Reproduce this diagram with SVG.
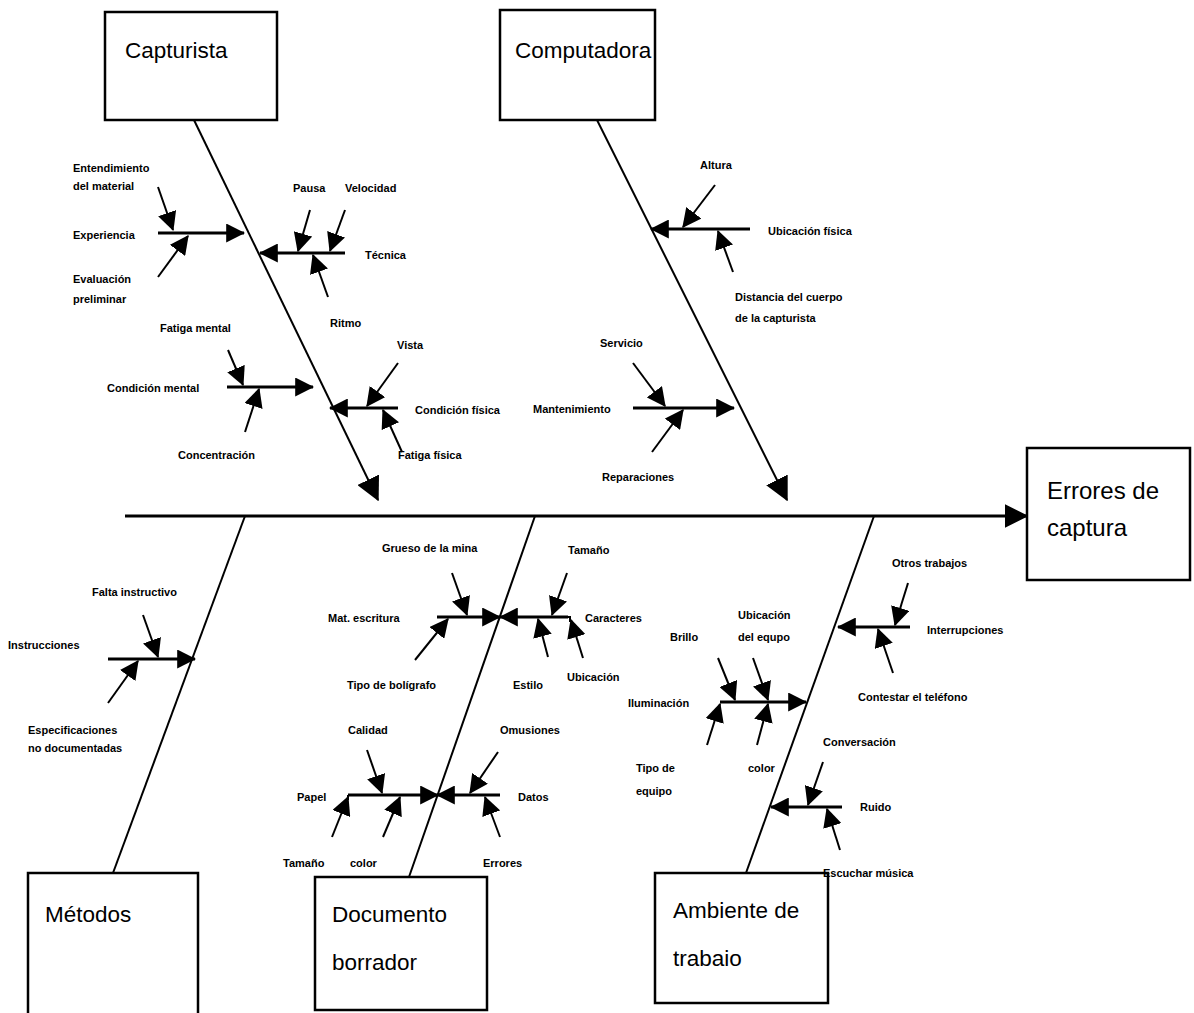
<svg xmlns="http://www.w3.org/2000/svg" width="1194" height="1013" viewBox="0 0 1194 1013">
<style>
.box{fill:#fff;stroke:#000;stroke-width:2.5}
.big{font-family:"Liberation Sans",Arial,sans-serif;font-size:22.5px;fill:#000}
.sm{font-family:"Liberation Sans",Arial,sans-serif;font-size:11px;font-weight:bold;fill:#000}
.bone{stroke:#000;stroke-width:2;fill:none}
.spine{stroke:#000;stroke-width:3;fill:none}
.sub{stroke:#000;stroke-width:3;fill:none}
.tw{stroke:#000;stroke-width:2;fill:none}
.a{marker-end:url(#ah)}
.b{marker-end:url(#ab)}
</style>
<defs>
<marker id="ah" viewBox="0 0 16 16" refX="15" refY="8" markerWidth="19" markerHeight="19" markerUnits="userSpaceOnUse" orient="auto"><path d="M0,0 L16,8 L0,16 z" fill="#000"/></marker>
<marker id="ab" viewBox="0 0 16 16" refX="15" refY="8" markerWidth="24" markerHeight="24" markerUnits="userSpaceOnUse" orient="auto"><path d="M0,0 L16,8 L0,16 z" fill="#000"/></marker>
</defs>
<rect width="1194" height="1013" fill="#fff"/>

<g id="connectors">
<line class="spine b" x1="125" y1="516" x2="1027" y2="516"/>
<line class="bone b" x1="194" y1="120" x2="378" y2="500"/>
<line class="bone b" x1="597" y1="120" x2="787" y2="500"/>
<line class="bone" x1="245" y1="516" x2="113" y2="873"/>
<line class="bone" x1="535" y1="516" x2="409" y2="877"/>
<line class="bone" x1="874" y1="516" x2="746" y2="873"/>

<!-- Capturista -->
<line class="sub a" x1="158" y1="233" x2="244" y2="233"/>
<line class="tw a" x1="158" y1="187" x2="173" y2="230"/>
<line class="tw a" x1="158" y1="277" x2="188" y2="236"/>
<line class="sub a" x1="345" y1="253" x2="260" y2="253"/>
<line class="tw a" x1="310" y1="210" x2="298" y2="251"/>
<line class="tw a" x1="345" y1="210" x2="330" y2="251"/>
<line class="tw a" x1="328" y1="297" x2="313" y2="255"/>
<line class="sub a" x1="227" y1="387" x2="313" y2="387"/>
<line class="tw a" x1="228" y1="350" x2="243" y2="385"/>
<line class="tw a" x1="245" y1="432" x2="259" y2="389"/>
<line class="sub a" x1="398" y1="408" x2="330" y2="408"/>
<line class="tw a" x1="398" y1="363" x2="367" y2="406"/>
<line class="tw a" x1="402" y1="452" x2="383" y2="410"/>

<!-- Computadora -->
<line class="sub a" x1="750" y1="229" x2="651" y2="229"/>
<line class="tw a" x1="715" y1="185" x2="683" y2="227"/>
<line class="tw a" x1="733" y1="272" x2="718" y2="231"/>
<line class="sub a" x1="633" y1="408" x2="734" y2="408"/>
<line class="tw a" x1="633" y1="363" x2="665" y2="406"/>
<line class="tw a" x1="652" y1="452" x2="683" y2="410"/>

<!-- Metodos -->
<line class="sub a" x1="108" y1="659" x2="195" y2="659"/>
<line class="tw a" x1="143" y1="615" x2="158" y2="657"/>
<line class="tw a" x1="108" y1="703" x2="138" y2="661"/>

<!-- Documento borrador -->
<line class="sub a" x1="437" y1="617" x2="500" y2="617"/>
<line class="tw a" x1="452" y1="573" x2="467" y2="615"/>
<line class="tw a" x1="415" y1="660" x2="448" y2="619"/>
<line class="sub a" x1="568" y1="617" x2="500" y2="617"/>
<polyline class="tw" points="568,617 570,617 570,622"/>
<line class="tw a" x1="567" y1="573" x2="552" y2="615"/>
<line class="tw a" x1="548" y1="657" x2="538" y2="619"/>
<line class="tw a" x1="583" y1="658" x2="571" y2="620"/>
<line class="sub a" x1="348" y1="795" x2="438" y2="795"/>
<line class="tw" x1="348" y1="795" x2="348" y2="800"/>
<line class="tw a" x1="367" y1="750" x2="382" y2="793"/>
<line class="tw a" x1="332" y1="837" x2="348" y2="797"/>
<line class="tw a" x1="383" y1="837" x2="400" y2="797"/>
<line class="sub a" x1="500" y1="795" x2="437" y2="795"/>
<line class="tw a" x1="498" y1="752" x2="470" y2="793"/>
<line class="tw a" x1="500" y1="837" x2="485" y2="797"/>

<!-- Ambiente de trabajo -->
<line class="sub a" x1="910" y1="627" x2="838" y2="627"/>
<line class="tw a" x1="908" y1="583" x2="895" y2="625"/>
<line class="tw a" x1="893" y1="673" x2="878" y2="629"/>
<line class="sub a" x1="720" y1="702" x2="806" y2="702"/>
<line class="tw a" x1="718" y1="658" x2="735" y2="700"/>
<line class="tw a" x1="753" y1="658" x2="768" y2="700"/>
<line class="tw a" x1="707" y1="745" x2="720" y2="704"/>
<line class="tw a" x1="757" y1="745" x2="768" y2="704"/>
<line class="sub a" x1="842" y1="807" x2="771" y2="807"/>
<line class="tw a" x1="823" y1="762" x2="808" y2="805"/>
<line class="tw a" x1="840" y1="850" x2="827" y2="809"/>
</g>

<g id="capturista">
<rect class="box" x="105" y="12" width="172" height="108"/>
<text class="big" x="125" y="58">Capturista</text>
<text class="sm" x="73" y="172">Entendimiento</text>
<text class="sm" x="73" y="190">del material</text>
<text class="sm" x="73" y="239">Experiencia</text>
<text class="sm" x="73" y="283">Evaluación</text>
<text class="sm" x="73" y="303">preliminar</text>
<text class="sm" x="293" y="192">Pausa</text>
<text class="sm" x="345" y="192">Velocidad</text>
<text class="sm" x="365" y="259">Técnica</text>
<text class="sm" x="330" y="327">Ritmo</text>
<text class="sm" x="160" y="332">Fatiga mental</text>
<text class="sm" x="107" y="392">Condición mental</text>
<text class="sm" x="178" y="459">Concentración</text>
<text class="sm" x="397" y="349">Vista</text>
<text class="sm" x="415" y="414">Condición física</text>
<text class="sm" x="398" y="459">Fatiga física</text>
</g>

<g id="computadora">
<rect class="box" x="500" y="10" width="155" height="110"/>
<text class="big" x="515" y="58">Computadora</text>
<text class="sm" x="700" y="169">Altura</text>
<text class="sm" x="768" y="235">Ubicación física</text>
<text class="sm" x="735" y="301">Distancia del cuerpo</text>
<text class="sm" x="735" y="322">de la capturista</text>
<text class="sm" x="600" y="347">Servicio</text>
<text class="sm" x="533" y="413">Mantenimiento</text>
<text class="sm" x="602" y="481">Reparaciones</text>
</g>

<g id="errores">
<rect class="box" x="1027" y="448" width="163" height="132"/>
<text class="big" x="1047" y="499" style="font-size:24px">Errores de</text>
<text class="big" x="1047" y="536" style="font-size:24px">captura</text>
</g>

<g id="metodos">
<rect class="box" x="28" y="873" width="170" height="145"/>
<text class="big" x="45" y="922">Métodos</text>
<text class="sm" x="92" y="596">Falta instructivo</text>
<text class="sm" x="8" y="649">Instrucciones</text>
<text class="sm" x="28" y="734">Especificaciones</text>
<text class="sm" x="28" y="752">no documentadas</text>
</g>

<g id="documento">
<rect class="box" x="315" y="877" width="172" height="133"/>
<text class="big" x="332" y="922">Documento</text>
<text class="big" x="332" y="970">borrador</text>
<text class="sm" x="382" y="552">Grueso de la mina</text>
<text class="sm" x="328" y="622">Mat. escritura</text>
<text class="sm" x="347" y="689">Tipo de bolígrafo</text>
<text class="sm" x="568" y="554">Tamaño</text>
<text class="sm" x="585" y="622">Caracteres</text>
<text class="sm" x="513" y="689">Estilo</text>
<text class="sm" x="567" y="681">Ubicación</text>
<text class="sm" x="348" y="734">Calidad</text>
<text class="sm" x="297" y="801">Papel</text>
<text class="sm" x="283" y="867">Tamaño</text>
<text class="sm" x="350" y="867">color</text>
<text class="sm" x="500" y="734">Omusiones</text>
<text class="sm" x="518" y="801">Datos</text>
<text class="sm" x="483" y="867">Errores</text>
</g>

<g id="ambiente">
<rect class="box" x="655" y="873" width="173" height="130"/>
<text class="big" x="673" y="918">Ambiente de</text>
<text class="big" x="673" y="966">trabaio</text>
<text class="sm" x="892" y="567">Otros trabajos</text>
<text class="sm" x="927" y="634">Interrupciones</text>
<text class="sm" x="858" y="701">Contestar el teléfono</text>
<text class="sm" x="738" y="619">Ubicación</text>
<text class="sm" x="738" y="641">del equpo</text>
<text class="sm" x="670" y="641">Brillo</text>
<text class="sm" x="628" y="707">Iluminación</text>
<text class="sm" x="636" y="772">Tipo de</text>
<text class="sm" x="636" y="795">equipo</text>
<text class="sm" x="748" y="772">color</text>
<text class="sm" x="823" y="746">Conversación</text>
<text class="sm" x="860" y="811">Ruido</text>
<text class="sm" x="823" y="877">Escuchar música</text>
</g>
</svg>
